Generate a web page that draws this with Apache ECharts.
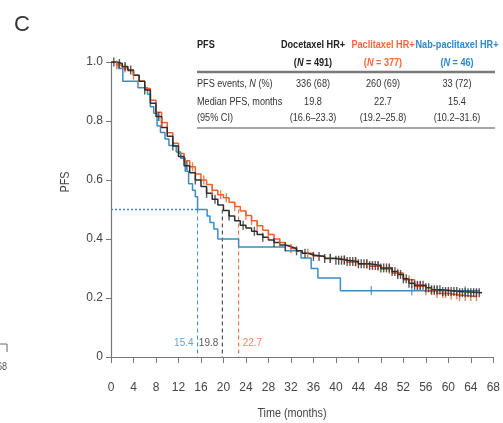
<!DOCTYPE html>
<html>
<head>
<meta charset="utf-8">
<script src="https://cdn.jsdelivr.net/npm/echarts@6/dist/echarts.min.js"></script>
<style>
  html, body { margin: 0; padding: 0; background: #fff; }
  #chart { width: 503px; height: 423px; }
</style>
</head>
<body>
<div id="chart"></div>
<script>
// Kaplan-Meier steps (time in months, PFS)
var doceT = [0,1,2,3,4,5,6,7,8,9,10,11,12,13,14,15,16,17,18,19,20,21,22,23,24,25,26,27,28,29,30,31,32,33,34,35,36,38,40,42,44,46,48,50,51,52,53,54,56,57,59,62,66];
var doceS = [1,0.995,0.985,0.973,0.955,0.935,0.905,0.86,0.815,0.778,0.748,0.715,0.68,0.648,0.625,0.60,0.578,0.555,0.535,0.515,0.497,0.478,0.462,0.447,0.437,0.426,0.415,0.406,0.397,0.388,0.38,0.374,0.368,0.36,0.352,0.346,0.341,0.334,0.328,0.324,0.316,0.31,0.302,0.29,0.28,0.265,0.25,0.243,0.235,0.228,0.222,0.218,0.218];

var pacliT = [0,1,2,3,4,5,6,7,8,9,10,11,12,13,14,15,16,17,18,19,20,21,22,23,24,25,26,27,28,29,30,31,32,33,34,36,38,40,42,44,46,48,50,52,54,56,58,60,62,65];
var pacliS = [1,0.99,0.98,0.97,0.955,0.935,0.91,0.87,0.83,0.795,0.76,0.725,0.69,0.665,0.645,0.62,0.60,0.585,0.565,0.55,0.54,0.525,0.51,0.495,0.48,0.462,0.445,0.43,0.415,0.40,0.388,0.378,0.368,0.36,0.352,0.342,0.335,0.33,0.322,0.315,0.308,0.298,0.285,0.262,0.24,0.225,0.215,0.21,0.205,0.205];

var nabT = [0,1.3,2.1,4.8,6.5,7.0,7.6,8.2,8.8,9.6,10.3,11.6,12.4,13.2,13.8,14.5,15.0,15.4,17.1,17.6,18.3,19.0,22.7,31.0,33.8,35.6,36.8,40.8,65.5];
var nabS = [1,0.978,0.935,0.913,0.891,0.848,0.826,0.783,0.761,0.739,0.717,0.695,0.674,0.63,0.587,0.565,0.543,0.50,0.478,0.456,0.434,0.40,0.373,0.36,0.336,0.30,0.268,0.225,0.225];

// censoring times
var doceCens = [0.5,1.5,2.5,3.5,6,8.5,11,13.5,15,17,18.5,21,23.5,25.5,27,29,31,33,34.5,36,37,38,39,40,40.5,41,41.5,42,42.5,43,43.5,44,44.5,45,45.5,46,46.5,47,47.5,48,48.5,49,49.5,50,50.5,51,51.5,52,52.5,53,53.5,54,54.5,55,55.5,56,56.5,57,57.5,58,58.5,59,59.5,60,60.5,61,61.5,62,62.5,63,63.5,64,64.5,65,65.5];
var pacliCens = [1,2.5,4,9,14.5,16.5,18,19.5,20.5,22,24,25,26,28,30,32,35,39,41.5,43.5,45.5,47.5,49.5,51,53,54.5,55,56,57,57.5,58,59,59.5,60.5,61.5,62,63,64,65];
var nabCens = [46.3,53.5,58,63];

var medians = [19.8, 22.7, 15.4];
var groupNames = ['Docetaxel HR+', 'Paclitaxel HR+', 'Nab-paclitaxel HR+'];
var groupN = ['491', '377', '46'];
var pfsEvents = ['336 (68)', '260 (69)', '33 (72)'];
var medianPfs = ['19.8', '22.7', '15.4'];
var medianCi = ['(16.6\u201323.3)', '(19.2\u201325.8)', '(10.2\u201331.6)'];

var xTicks = { min: 0, max: 68, step: 4 };
var yTicks = { min: 0, max: 1, step: 0.2 };

var colors = ['#2e2e2e', '#e8632f', '#3a8cc6'];
var headColors = ['#222', '#ee6a3c', '#2d87c8'];
var FONT = "'Liberation Sans', Arial, sans-serif";
var SQUEEZE = 0.83; // the source uses a condensed face

function pairs(t, s) {
  return t.map(function (v, i) { return [v, s[i]]; });
}
function survAt(t, s, x) {
  var k = 0;
  for (var i = 0; i < t.length; i++) { if (t[i] <= x) k = i; }
  return s[k];
}
function censor(t, s, c) {
  return c.map(function (x) { return [x, survAt(t, s, x)]; });
}

var curves = [[doceT, doceS, doceCens], [pacliT, pacliS, pacliCens], [nabT, nabS, nabCens]];
var drawOrder = [2, 1, 0];
var series = [];

// median guide lines
series.push({
  type: 'line', data: [[0, 0.5], [medians[2], 0.5]], showSymbol: false, silent: true,
  lineStyle: { color: colors[2], width: 1.5, type: [2, 2] }, z: 1
});
medians.forEach(function (m, i) {
  series.push({
    type: 'line', data: [[m, 0.5], [m, 0]], showSymbol: false, silent: true,
    lineStyle: { color: colors[i], width: 1, type: [4, 3] }, z: 1
  });
  series.push({
    type: 'scatter', data: [[m, 0.047]], symbolSize: 0, silent: true,
    label: {
      show: true, formatter: medianPfs[i], position: i === 1 ? 'right' : 'left', distance: 4,
      color: colors[i], fontFamily: FONT, fontSize: 10
    }
  });
});

drawOrder.forEach(function (g) {
  var c = curves[g];
  series.push({
    type: 'line', step: 'end', data: pairs(c[0], c[1]), showSymbol: false, silent: true,
    lineStyle: { color: colors[g], width: 1.5 }, z: 3
  });
  series.push({
    type: 'scatter', data: censor(c[0], c[1], c[2]), symbol: 'rect', symbolSize: [1.4, 9],
    itemStyle: { color: colors[g] }, silent: true, z: 3
  });
});

// table and titles drawn as graphic text, squeezed horizontally
function txt(x, y, text, o) {
  o = o || {};
  return {
    type: 'text', x: x, y: y, silent: true, scaleX: o.scale || SQUEEZE, rotation: o.rotation || 0,
    style: {
      text: text, fill: o.fill || '#333', font: (o.weight || 'normal') + ' ' + (o.size || 11) + 'px ' + FONT,
      textAlign: o.align || 'center', textVerticalAlign: 'middle', rich: o.rich
    }
  };
}
function rich(fill, weight) {
  return {
    a: { font: weight + ' 11px ' + FONT, fill: fill },
    b: { font: 'italic ' + weight + ' 11px ' + FONT, fill: fill }
  };
}
var colX = [313, 383, 457];
var graphics = [
  { type: 'text', x: 14, y: 14, silent: true, style: { text: 'C', fill: '#333', font: '22px ' + FONT } },
  txt(197, 45, 'PFS', { align: 'left', weight: 'bold', fill: '#222' }),
  txt(197, 84, '{a|PFS events, }{b|N}{a| (%)}', { align: 'left', rich: rich('#333', 'normal') }),
  txt(197, 102, 'Median PFS, months', { align: 'left' }),
  txt(197, 118, '(95% CI)', { align: 'left' }),
  { type: 'line', silent: true, shape: { x1: 197, y1: 72, x2: 495, y2: 72 }, style: { stroke: '#7a7a7a', lineWidth: 2.5 } },
  { type: 'line', silent: true, shape: { x1: 197, y1: 128, x2: 495, y2: 128 }, style: { stroke: '#8a8a8a', lineWidth: 1.5 } },
  txt(-3, 367, '68', { align: 'left', fill: '#555' }),
  { type: 'polyline', silent: true, shape: { points: [[0, 344], [7, 344], [7, 352]] }, style: { stroke: '#666', lineWidth: 1, fill: null } },
  txt(65, 182, 'PFS', { size: 13, fill: '#444', rotation: Math.PI / 2 }),
  txt(292, 413, 'Time (months)', { size: 13, fill: '#444' })
];
groupNames.forEach(function (n, i) {
  var hc = headColors[i];
  graphics.push(txt(colX[i], 45, n, { weight: 'bold', fill: hc }));
  graphics.push(txt(colX[i], 63, '{a|(}{b|N}{a| = ' + groupN[i] + ')}', { rich: rich(hc, 'bold') }));
  graphics.push(txt(colX[i], 84, pfsEvents[i]));
  graphics.push(txt(colX[i], 102, medianPfs[i]));
  graphics.push(txt(colX[i], 118, medianCi[i]));
});

var chart = echarts.init(document.getElementById('chart'), null, { renderer: 'canvas' });
chart.setOption({
  animation: false,
  backgroundColor: '#fff',
  grid: { left: 111, right: 6, top: 62, bottom: 66, containLabel: false },
  xAxis: {
    type: 'value', min: xTicks.min, max: xTicks.max, interval: xTicks.step,
    axisLine: { lineStyle: { color: '#777', width: 1.2 } },
    axisTick: { length: 6, lineStyle: { color: '#777' } },
    axisLabel: { color: '#444', fontFamily: FONT, fontSize: 12, margin: 25 },
    splitLine: { show: false }
  },
  yAxis: {
    type: 'value', min: yTicks.min, max: yTicks.max, interval: yTicks.step,
    axisLine: { show: true, lineStyle: { color: '#777', width: 1.2 } },
    axisTick: { show: true, length: 5, lineStyle: { color: '#777' } },
    axisLabel: {
      color: '#444', fontFamily: FONT, fontSize: 12, margin: 8,
      formatter: function (v) { return v === 0 ? '0' : v.toFixed(1); }
    },
    splitLine: { show: false }
  },
  series: series,
  graphic: graphics
});
</script>
</body>
</html>
